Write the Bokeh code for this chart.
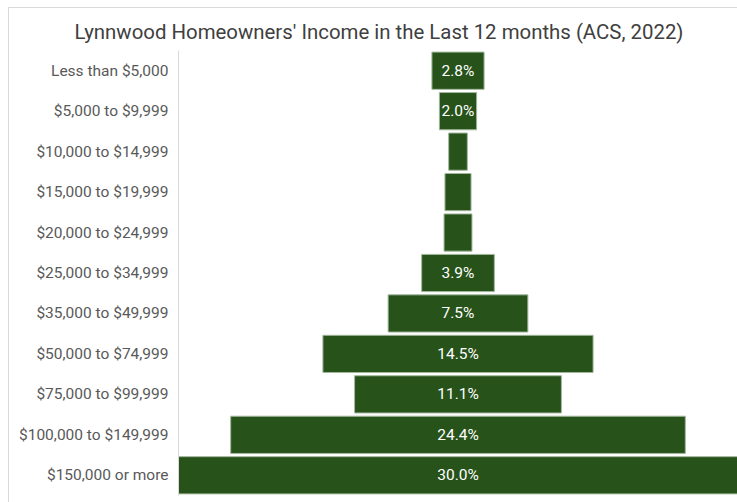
from bokeh.plotting import figure
from bokeh.models import ColumnDataSource, Range1d, FactorRange, LabelSet, InlineStyleSheet
from bokeh.core.properties import value
from bokeh.embed import file_html
from bokeh.resources import INLINE

title_text = "Lynnwood Homeowners' Income in the Last 12 months (ACS, 2022)"
categories = [
    "Less than $5,000", "$5,000 to $9,999", "$10,000 to $14,999",
    "$15,000 to $19,999", "$20,000 to $24,999", "$25,000 to $34,999",
    "$35,000 to $49,999", "$50,000 to $74,999", "$75,000 to $99,999",
    "$100,000 to $149,999", "$150,000 or more",
]
values = [2.8, 2.0, 1.0, 1.4, 1.5, 3.9, 7.5, 14.5, 11.1, 24.4, 30.0]

label_min = 2.0
src = ColumnDataSource(dict(
    cat=categories,
    left=[-v / 2 for v in values],
    right=[v / 2 for v in values],
    x=[0.0] * len(values),
    txt=[f"{v:.1f}%" if v >= label_min else "" for v in values],
))

FONT = "Roboto"
p = figure(
    width=737, height=502,
    y_range=FactorRange(*reversed(categories), range_padding=0),
    x_range=Range1d(-15, 15),
    output_backend="svg", toolbar_location=None,
    min_border_left=178, min_border_right=0,
    min_border_top=50, min_border_bottom=7,
)
p.outline_line_color = None
p.xgrid.visible = False
p.ygrid.visible = False
p.xaxis.visible = False

p.title.text = title_text
p.title.align = "left"
p.title.offset = -104
p.title.standoff = 13
p.title.text_font = FONT
p.title.text_font_size = "20.4px"
p.title.text_font_style = "normal"
p.title.text_color = "#404040"

p.yaxis.axis_line_color = "#D9D9D9"
p.yaxis.major_tick_line_color = None
p.yaxis.minor_tick_line_color = None
p.yaxis.major_tick_out = 0
p.yaxis.major_tick_in = 0
p.yaxis.major_label_text_font = FONT
p.yaxis.major_label_text_font_size = "15.5px"
p.yaxis.major_label_text_color = "#595959"
p.yaxis.major_label_standoff = 10

p.hbar(y="cat", left="left", right="right", height=0.92, source=src,
       fill_color="#27521A", line_color="#A3B89D", line_width=1)

p.add_layout(LabelSet(x="x", y="cat", text="txt", source=src,
                      text_align="center", text_baseline="middle",
                      text_color="white", text_font=value(FONT),
                      text_font_size="15.5px", text_font_style="normal"))

p.stylesheets = [InlineStyleSheet(css="""
:host::after {
  content: '';
  position: absolute;
  left: 8px; top: 7px; right: -40px; bottom: -40px;
  border: 1px solid #D9D9D9;
  pointer-events: none;
}
""")]

open("out.html", "w").write(file_html(p, INLINE))
